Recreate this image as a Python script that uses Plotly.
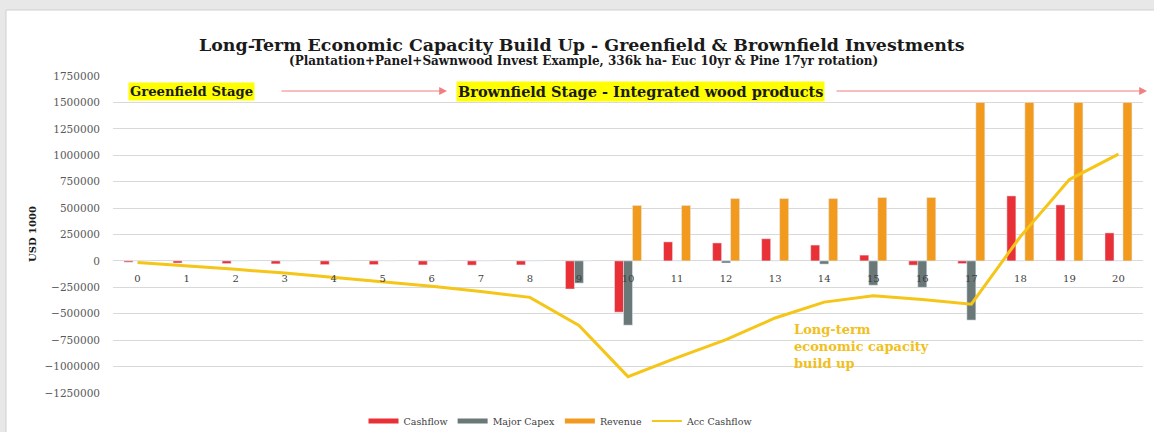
import plotly.graph_objects as go

years = [str(i) for i in range(21)]
cashflow = [-12000, -20000, -25000, -28000, -35000, -35000, -38000, -40000, -38000,
            -266000, -485000, 180000, 170000, 210000, 150000, 55000, -40000, -25000,
            615000, 530000, 265000]
major_capex = [0, 0, 0, 0, 0, 0, 0, 0, 0, -210000, -608000, 0, -20000, 0, -30000,
               -230000, -250000, -560000, 0, 0, 0]
revenue = [0, 0, 0, 0, 0, 0, 0, 0, 0, 0, 525000, 525000, 590000, 590000, 590000,
           600000, 600000, 1500000, 1500000, 1500000, 1500000]
acc_cashflow = [-15000, -45000, -80000, -115000, -155000, -195000, -240000, -290000,
                -345000, -610000, -1095000, -915000, -745000, -540000, -390000,
                -330000, -365000, -410000, 230000, 770000, 1010000]
y_ticks = [-1250000, -1000000, -750000, -500000, -250000, 0, 250000, 500000,
           750000, 1000000, 1250000, 1500000, 1750000]

FONT = "DejaVu Serif"
YMIN, YMAX = -1250000, 1750000
RED, GREY, ORANGE, YELLOW = "#ea3037", "#6b7878", "#f29a1e", "#f5c518"

fig = go.Figure()
fig.add_trace(go.Bar(x=years, y=cashflow, name="Cashflow", marker_color=RED, showlegend=False))
fig.add_trace(go.Bar(x=years, y=major_capex, name="Major Capex", marker_color=GREY, showlegend=False))
fig.add_trace(go.Bar(x=years, y=revenue, name="Revenue", marker_color=ORANGE, showlegend=False))
fig.add_trace(go.Scatter(x=years, y=acc_cashflow, name="Acc Cashflow", mode="lines",
                         line=dict(color=YELLOW, width=3), showlegend=False))
# legend-only entries (Excel style wide swatches)
for name, col, w in [("Cashflow", RED, 5), ("Major Capex", GREY, 5), ("Revenue", ORANGE, 5),
                     ("Acc Cashflow", YELLOW, 2)]:
    fig.add_trace(go.Scatter(x=[None], y=[None], name=name, mode="lines",
                             line=dict(color=col, width=w), showlegend=True))

L, R, T, B = 113, 11, 76, 39
W, H = 1154, 432
pw = W - L - R
ph = H - T - B

def px(x):
    return (x - L) / pw

def py(y):
    return (H - B - y) / ph

fig.update_layout(
    width=W, height=H,
    margin=dict(l=L, r=R, t=T, b=B, autoexpand=False),
    paper_bgcolor="#e8e8e8",
    plot_bgcolor="white",
    barmode="group",
    bargap=0.45,
    bargroupgap=0,
    font=dict(family=FONT, color="#595959", size=10),
    showlegend=True,
    legend=dict(orientation="h", x=px(561), xanchor="center", y=py(421), yanchor="middle",
                font=dict(size=9.5, color="#404040"), bgcolor="rgba(0,0,0,0)",
                itemwidth=30, traceorder="normal"),
    xaxis=dict(type="category", anchor="free", position=-YMIN / (YMAX - YMIN),
               showgrid=False, showline=False, ticks="", zeroline=False, automargin=False,
               ticklabelstandoff=10, tickfont=dict(size=10, color="#404040")),
    yaxis=dict(range=[YMIN, YMAX], tickvals=y_ticks, tickformat="d", automargin=False,
               showgrid=True, gridcolor="#d9d9d9", gridwidth=1,
               zeroline=True, zerolinecolor="#d9d9d9", zerolinewidth=1,
               ticks="", ticklabelstandoff=12, showline=False,
               tickfont=dict(size=10.5, color="#595959")),
)

# white card background
fig.add_shape(type="rect", xref="paper", yref="paper",
              x0=px(6), x1=px(W + 20), y0=py(H + 20), y1=py(10),
              fillcolor="white", line=dict(color="#cfcfcf", width=1), layer="below")

# titles
fig.add_annotation(text="<b>Long-Term Economic Capacity Build Up - Greenfield & Brownfield Investments</b>",
                   xref="paper", yref="paper", x=px(582), y=py(45), showarrow=False,
                   font=dict(family=FONT, size=17.4, color="#1a1a1a"), xanchor="center", yanchor="middle")
fig.add_annotation(text="<b>(Plantation+Panel+Sawnwood Invest Example, 336k ha- Euc 10yr & Pine 17yr rotation)</b>",
                   xref="paper", yref="paper", x=px(583), y=py(61), showarrow=False,
                   font=dict(family=FONT, size=12, color="#1a1a1a"), xanchor="center", yanchor="middle")

# y axis title
fig.add_annotation(text="<b>USD 1000</b>", xref="paper", yref="paper", x=px(32), y=py(234),
                   textangle=-90, showarrow=False, xanchor="center", yanchor="middle",
                   font=dict(family=FONT, size=10, color="#1a1a1a"))

# stage labels
fig.add_annotation(text="<b>Greenfield Stage</b>", xref="paper", yref="paper", x=px(191), y=py(91),
                   showarrow=False, bgcolor="#ffff00", borderpad=1, xanchor="center", yanchor="middle",
                   font=dict(family=FONT, size=13.2, color="#1a1a1a"))
fig.add_annotation(text="<b>Brownfield Stage - Integrated wood products</b>", xref="paper", yref="paper",
                   x=px(640), y=py(91), showarrow=False, bgcolor="#ffff00", borderpad=1,
                   xanchor="center", yanchor="middle",
                   font=dict(family=FONT, size=14.5, color="#1a1a1a"))

# arrows
for x0, x1 in [(280, 447), (835, 1147)]:
    fig.add_annotation(text="", xref="paper", yref="paper", x=px(x1), y=py(91),
                       ax=-(x1 - x0), ay=0, axref="pixel", ayref="pixel",
                       showarrow=True, arrowhead=2, arrowsize=1.3, arrowwidth=1.2,
                       arrowcolor="#f07f7f")

# line annotation
fig.add_annotation(text="<b>Long-term<br>economic capacity<br>build up</b>", xref="paper", yref="paper",
                   x=px(792), y=py(346), xanchor="left", yanchor="middle", align="left",
                   showarrow=False, font=dict(family=FONT, size=13, color="#f0c020"))

fig.write_html("out.html", config={"displayModeBar": False},
               post_script="document.body.style.margin='0px';")
